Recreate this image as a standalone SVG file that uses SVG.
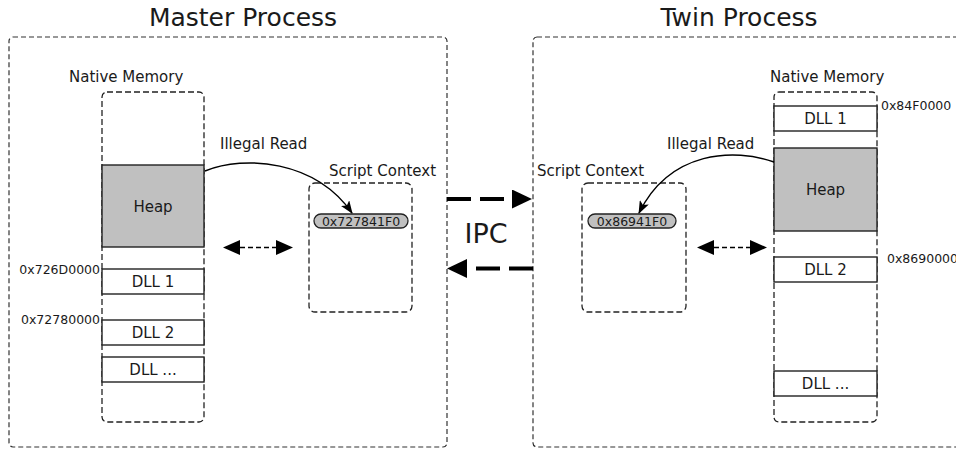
<svg xmlns="http://www.w3.org/2000/svg" width="956" height="450" viewBox="0 0 956 450">
<defs>
<style>
text{font-family:"DejaVu Sans","Liberation Sans",sans-serif;fill:#1a1a1a}
.title{font-size:25px;text-anchor:middle}
.lbl{font-size:15px}
.mid{text-anchor:middle}
.hex{font-size:12.5px}
.proc{fill:none;stroke:#333;stroke-width:1.2;stroke-dasharray:5 3}
.dbox{fill:none;stroke:#222;stroke-width:1.3;stroke-dasharray:6 3}
.seg{fill:#fff;stroke:#222;stroke-width:1.4}
.heap{fill:#c0c0c0;stroke:#222;stroke-width:1.4}
.pill{fill:#c0c0c0;stroke:#222;stroke-width:1.3}
.curve{fill:none;stroke:#000;stroke-width:1.5}
.dbl{fill:none;stroke:#000;stroke-width:1.4;stroke-dasharray:5 3}
.ipc{fill:none;stroke:#000;stroke-width:4;stroke-dasharray:24 9}
</style>
<marker id="curveHead" viewBox="0 0 13 10" refX="12" refY="5" markerWidth="13" markerHeight="10" markerUnits="userSpaceOnUse" orient="auto">
<path d="M0,0 L13,5 L0,10 L3,5 z" fill="#000"/>
</marker>
<marker id="smallHead" viewBox="0 0 17 15" refX="0" refY="7.5" markerWidth="17" markerHeight="15" markerUnits="userSpaceOnUse" orient="auto-start-reverse">
<path d="M0,0 L17,7.5 L0,15 z" fill="#000"/>
</marker>
<marker id="bigHead" viewBox="0 0 20 19" refX="0" refY="9.5" markerWidth="20" markerHeight="19" markerUnits="userSpaceOnUse" orient="auto">
<path d="M0,0 L20,9.5 L0,19 z" fill="#000"/>
</marker>
</defs>
<rect width="956" height="450" fill="#fff"/>

<g id="master-process">
<rect class="proc" x="9" y="37" width="438" height="410" rx="4"/>
<text class="title" x="243" y="26">Master Process</text>
</g>
<g id="twin-process">
<rect class="proc" x="533" y="37" width="440" height="410" rx="4"/>
<text class="title" x="739" y="26">Twin Process</text>
</g>

<g id="master-native-memory">
<text class="lbl" x="69" y="82">Native Memory</text>
<rect class="dbox" x="102" y="92" width="102" height="330" rx="5"/>
<rect class="heap" x="102" y="165" width="102" height="82"/>
<text class="lbl mid" x="153" y="212">Heap</text>
<rect class="seg" x="102" y="269" width="102" height="25"/>
<text class="lbl mid" x="153" y="287">DLL 1</text>
<rect class="seg" x="102" y="320" width="102" height="25"/>
<text class="lbl mid" x="153" y="338">DLL 2</text>
<rect class="seg" x="102" y="357" width="102" height="25"/>
<text class="lbl mid" x="153" y="375">DLL ...</text>
<text class="hex" x="100" y="274" text-anchor="end">0x726D0000</text>
<text class="hex" x="100" y="324" text-anchor="end">0x72780000</text>
</g>

<g id="master-script-context">
<text class="lbl" x="329" y="176">Script Context</text>
<rect class="dbox" x="309" y="183" width="103" height="129" rx="6"/>
<rect class="pill" x="314" y="214" width="94" height="14" rx="7"/>
<text class="hex mid" x="361" y="226">0x727841F0</text>
</g>

<g id="twin-native-memory">
<text class="lbl" x="770" y="82">Native Memory</text>
<rect class="dbox" x="774" y="92" width="103" height="330" rx="5"/>
<rect class="seg" x="774" y="106" width="103" height="25"/>
<text class="lbl mid" x="825.5" y="124">DLL 1</text>
<rect class="heap" x="774" y="148" width="103" height="83"/>
<text class="lbl mid" x="825.5" y="195">Heap</text>
<rect class="seg" x="774" y="257" width="103" height="25"/>
<text class="lbl mid" x="825.5" y="275">DLL 2</text>
<rect class="seg" x="774" y="371" width="103" height="25"/>
<text class="lbl mid" x="825.5" y="389">DLL ...</text>
<text class="hex" x="881" y="110">0x84F0000</text>
<text class="hex" x="887" y="263">0x86900000</text>
</g>

<g id="twin-script-context">
<text class="lbl" x="537" y="176">Script Context</text>
<rect class="dbox" x="582" y="183" width="104" height="129" rx="6"/>
<rect class="pill" x="588" y="214" width="88" height="14" rx="7"/>
<text class="hex mid" x="632" y="226">0x86941F0</text>
</g>

<g id="ipc-label">
<text x="486" y="243" font-size="27" text-anchor="middle">IPC</text>
</g>

<g id="connectors">
<path class="curve" d="M205,171 C245,155 315,160 352,213" marker-end="url(#curveHead)"/>
<text class="lbl" x="220" y="149">Illegal Read</text>
<path class="curve" d="M774,162 C735,148 670,150 639,213" marker-end="url(#curveHead)"/>
<text class="lbl" x="667" y="149">Illegal Read</text>
<line class="dbl" x1="240" y1="247.5" x2="276" y2="247.5" marker-start="url(#smallHead)" marker-end="url(#smallHead)"/>
<line class="dbl" x1="714" y1="247.5" x2="750" y2="247.5" marker-start="url(#smallHead)" marker-end="url(#smallHead)"/>
<line class="ipc" x1="447" y1="199" x2="512" y2="199" marker-end="url(#bigHead)"/>
<line class="ipc" x1="533" y1="268.5" x2="467" y2="268.5" marker-end="url(#bigHead)"/>
</g>
</svg>
